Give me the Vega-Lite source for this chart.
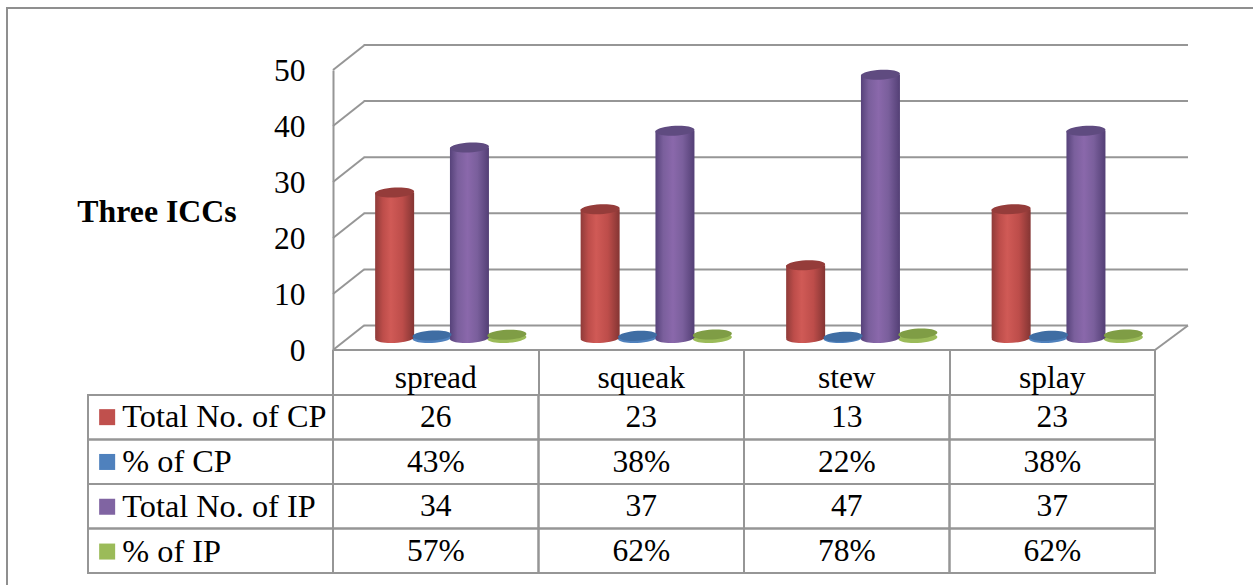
{
  "$schema": "https://vega.github.io/schema/vega-lite/v6.json",
  "autosize": "none",
  "width": 1247,
  "height": 578,
  "padding": {"left": 7, "top": 8, "right": 0, "bottom": 0},
  "background": "white",
  "view": {"stroke": "#8f8f8f", "strokeWidth": 2},
  "config": {"font": "Liberation Serif"},
  "datasets": {
    "measures": [
      {"category": "spread", "series": "Total No. of CP", "value": 26, "label": "26"},
      {"category": "squeak", "series": "Total No. of CP", "value": 23, "label": "23"},
      {"category": "stew", "series": "Total No. of CP", "value": 13, "label": "13"},
      {"category": "splay", "series": "Total No. of CP", "value": 23, "label": "23"},
      {"category": "spread", "series": "% of CP", "value": 0.43, "label": "43%"},
      {"category": "squeak", "series": "% of CP", "value": 0.38, "label": "38%"},
      {"category": "stew", "series": "% of CP", "value": 0.22, "label": "22%"},
      {"category": "splay", "series": "% of CP", "value": 0.38, "label": "38%"},
      {"category": "spread", "series": "Total No. of IP", "value": 34, "label": "34"},
      {"category": "squeak", "series": "Total No. of IP", "value": 37, "label": "37"},
      {"category": "stew", "series": "Total No. of IP", "value": 47, "label": "47"},
      {"category": "splay", "series": "Total No. of IP", "value": 37, "label": "37"},
      {"category": "spread", "series": "% of IP", "value": 0.57, "label": "57%"},
      {"category": "squeak", "series": "% of IP", "value": 0.62, "label": "62%"},
      {"category": "stew", "series": "% of IP", "value": 0.78, "label": "78%"},
      {"category": "splay", "series": "% of IP", "value": 0.62, "label": "62%"}
    ],
    "levels": [
      {"level": 0}, {"level": 10}, {"level": 20}, {"level": 30}, {"level": 40}, {"level": 50}
    ],
    "rows": [
      {"series": "Total No. of CP"}, {"series": "% of CP"}, {"series": "Total No. of IP"}, {"series": "% of IP"}
    ]
  },
  "resolve": {
    "scale": {"x": "independent", "y": "independent", "xOffset": "independent", "color": "independent"},
    "axis": {"x": "independent", "y": "independent"}
  },
  "layer": [
    {
      "description": "Back wall gridlines",
      "data": {"name": "levels"},
      "mark": {"type": "rule", "color": "#969696", "strokeWidth": 2},
      "encoding": {
        "x": {"datum": 0, "type": "quantitative", "axis": null, "scale": {"domain": [0, 4], "range": [356.5, 1181]}},
        "x2": {"datum": 4},
        "y": {"field": "level", "type": "quantitative", "axis": null, "scale": {"domain": [0, 50], "range": [317.5, 37]}}
      }
    },
    {
      "description": "Side wall diagonals with the value axis",
      "data": {"name": "levels"},
      "mark": {"type": "rule", "color": "#969696", "strokeWidth": 2, "x2Offset": 31, "y2Offset": -24.5},
      "encoding": {
        "x": {"datum": 0, "type": "quantitative", "axis": null, "scale": {"domain": [0, 4], "range": [326, 1148]}},
        "x2": {"datum": 0},
        "y": {
          "field": "level", "type": "quantitative",
          "scale": {"domain": [0, 50], "range": [342, 62]},
          "axis": {
            "orient": "left", "offset": -326, "values": [0, 10, 20, 30, 40, 50],
            "domainColor": "#969696", "domainWidth": 2, "ticks": false, "grid": false,
            "labelFont": "Liberation Serif", "labelFontSize": 31.5, "labelColor": "black", "labelPadding": 28, "labelOffset": 1,
            "title": "Three ICCs", "titleAngle": 0, "titleFont": "Liberation Serif", "titleFontSize": 31.8,
            "titleFontWeight": "bold", "titleColor": "black", "titleAlign": "center", "titleBaseline": "middle",
            "titleX": -176.5, "titleY": 203
          }
        },
        "y2": {"field": "level"}
      }
    },
    {
      "description": "Floor edge on the far side",
      "data": {"values": [{"level": 0}]},
      "mark": {"type": "rule", "color": "#969696", "strokeWidth": 2, "x2Offset": 33, "y2Offset": -24.5},
      "encoding": {
        "x": {"datum": 4, "type": "quantitative", "axis": null, "scale": {"domain": [0, 4], "range": [326, 1148]}},
        "x2": {"datum": 4},
        "y": {"field": "level", "type": "quantitative", "axis": null, "scale": {"domain": [0, 50], "range": [342, 62]}},
        "y2": {"field": "level"}
      }
    },
    {
      "description": "Data table cells with the category header as the axis",
      "data": {"name": "measures"},
      "mark": {"type": "rect", "fill": "transparent", "stroke": "#969696", "strokeWidth": 2},
      "encoding": {
        "x": {
          "field": "category", "type": "nominal",
          "scale": {"type": "band", "domain": ["spread", "squeak", "stew", "splay"], "range": [326, 1148], "paddingInner": 0, "paddingOuter": 0},
          "axis": {
            "orient": "bottom", "offset": -236, "title": null, "labelAngle": 0, "labelOverlap": false, "translate": 0,
            "domainColor": "#969696", "domainWidth": 2, "tickBand": "extent", "tickColor": "#969696", "tickWidth": 2, "tickSize": 45,
            "labelFont": "Liberation Serif", "labelFontSize": 31.5, "labelColor": "black", "labelBaseline": "alphabetic", "labelPadding": -7, "grid": false
          }
        },
        "y": {
          "field": "series", "type": "nominal", "axis": null,
          "scale": {"type": "band", "domain": ["Total No. of CP", "% of CP", "Total No. of IP", "% of IP"], "range": [387, 565], "paddingInner": 0, "paddingOuter": 0}
        }
      }
    },
    {
      "description": "Row header cells, with the series key as their labels",
      "data": {"name": "rows"},
      "mark": {"type": "rect", "fill": "transparent", "stroke": "#969696", "strokeWidth": 2},
      "encoding": {
        "x": {"datum": "series", "type": "nominal", "axis": null, "scale": {"type": "band", "domain": ["series"], "range": [81, 326], "paddingInner": 0, "paddingOuter": 0}},
        "y": {
          "field": "series", "type": "nominal", "axis": null,
          "scale": {"type": "band", "domain": ["Total No. of CP", "% of CP", "Total No. of IP", "% of IP"], "range": [387, 565], "paddingInner": 0, "paddingOuter": 0}
        }
      }
    },
    {
      "description": "Data table values",
      "data": {"name": "measures"},
      "mark": {"type": "text", "font": "Liberation Serif", "fontSize": 31.5, "color": "black", "baseline": "middle", "dy": 1},
      "encoding": {
        "x": {"field": "category", "type": "nominal", "axis": null, "scale": {"type": "band", "domain": ["spread", "squeak", "stew", "splay"], "range": [326, 1148], "paddingInner": 0, "paddingOuter": 0}},
        "y": {"field": "series", "type": "nominal", "axis": null, "scale": {"type": "band", "domain": ["Total No. of CP", "% of CP", "Total No. of IP", "% of IP"], "range": [387, 565], "paddingInner": 0, "paddingOuter": 0}},
        "text": {"field": "label"}
      }
    },
    {
      "description": "Lower rims of the flat percentage discs, source of the series key",
      "data": {"name": "measures"},
      "transform": [{"filter": "indexof(datum.series, '%') === 0"}],
      "mark": {"type": "point", "filled": true, "opacity": 1, "shape": "M -0.9986 0.052 A 1 0.25 -3 1 1 0.9986 -0.052 A 1 0.25 -3 1 1 -0.9986 0.052 Z", "size": 1521},
      "encoding": {
        "x": {"field": "category", "type": "nominal", "axis": null, "scale": {"type": "band", "domain": ["spread", "squeak", "stew", "splay"], "range": [341, 1163], "paddingInner": 0, "paddingOuter": 0}},
        "xOffset": {"field": "series", "type": "nominal", "scale": {"type": "band", "domain": ["Total No. of CP", "% of CP", "Total No. of IP", "% of IP"], "paddingInner": 0, "paddingOuter": 0.747}},
        "y": {"datum": 0, "type": "quantitative", "axis": null, "scale": {"domain": [0, 50], "range": [330, 50]}},
        "color": {
          "field": "series", "type": "nominal",
          "scale": {"domain": ["Total No. of CP", "% of CP", "Total No. of IP", "% of IP"], "range": ["#C0504D", "#4F81BD", "#8064A2", "#9BBB59"]},
          "legend": {
            "orient": "none", "legendX": 84, "legendY": 393, "title": null, "symbolType": "square", "symbolSize": 256,
            "symbolStrokeWidth": 0, "symbolOpacity": 1, "labelFont": "Liberation Serif", "labelFontSize": 32.3, "labelColor": "black",
            "labelOffset": -1, "rowPadding": 11.8, "padding": 0, "labelLimit": 400
          }
        }
      }
    },
    {
      "description": "Red cylinder bodies",
      "data": {"name": "measures"},
      "transform": [{"filter": "datum.series === 'Total No. of CP'"}],
      "mark": {"type": "bar", "width": 39, "color": {"x1": 0, "x2": 1, "y1": 0, "y2": 0, "gradient": "linear", "stops": [
        {"offset": 0, "color": "#8f3b39"}, {"offset": 0.2, "color": "#bd4d4a"}, {"offset": 0.4, "color": "#d05a56"},
        {"offset": 0.7, "color": "#bd4d4a"}, {"offset": 1, "color": "#843533"}]}},
      "encoding": {
        "x": {"field": "category", "type": "nominal", "axis": null, "scale": {"type": "band", "domain": ["spread", "squeak", "stew", "splay"], "range": [341, 1163], "paddingInner": 0, "paddingOuter": 0}},
        "xOffset": {"field": "series", "type": "nominal", "scale": {"type": "band", "domain": ["Total No. of CP", "% of CP", "Total No. of IP", "% of IP"], "paddingInner": 0, "paddingOuter": 0.747}},
        "y": {"field": "value", "type": "quantitative", "stack": null, "axis": null, "scale": {"domain": [0, 50], "range": [330, 50]}}
      }
    },
    {
      "description": "Red cylinder bases",
      "data": {"name": "measures"},
      "transform": [{"filter": "datum.series === 'Total No. of CP'"}],
      "mark": {"type": "point", "filled": true, "opacity": 1, "shape": "M -0.9986 0.052 A 1 0.25 -3 1 1 0.9986 -0.052 A 1 0.25 -3 1 1 -0.9986 0.052 Z", "size": 1521, "color": {"x1": 0, "x2": 1, "y1": 0, "y2": 0, "gradient": "linear", "stops": [
        {"offset": 0, "color": "#8f3b39"}, {"offset": 0.2, "color": "#bd4d4a"}, {"offset": 0.4, "color": "#d05a56"},
        {"offset": 0.7, "color": "#bd4d4a"}, {"offset": 1, "color": "#843533"}]}},
      "encoding": {
        "x": {"field": "category", "type": "nominal", "axis": null, "scale": {"type": "band", "domain": ["spread", "squeak", "stew", "splay"], "range": [341, 1163], "paddingInner": 0, "paddingOuter": 0}},
        "xOffset": {"field": "series", "type": "nominal", "scale": {"type": "band", "domain": ["Total No. of CP", "% of CP", "Total No. of IP", "% of IP"], "paddingInner": 0, "paddingOuter": 0.747}},
        "y": {"datum": 0, "type": "quantitative", "axis": null, "scale": {"domain": [0, 50], "range": [330, 50]}}
      }
    },
    {
      "description": "Purple cylinder bodies",
      "data": {"name": "measures"},
      "transform": [{"filter": "datum.series === 'Total No. of IP'"}],
      "mark": {"type": "bar", "width": 39, "color": {"x1": 0, "x2": 1, "y1": 0, "y2": 0, "gradient": "linear", "stops": [
        {"offset": 0, "color": "#56427a"}, {"offset": 0.2, "color": "#7a5f9c"}, {"offset": 0.45, "color": "#8a68ab"},
        {"offset": 0.7, "color": "#7a5f9c"}, {"offset": 1, "color": "#533f75"}]}},
      "encoding": {
        "x": {"field": "category", "type": "nominal", "axis": null, "scale": {"type": "band", "domain": ["spread", "squeak", "stew", "splay"], "range": [341, 1163], "paddingInner": 0, "paddingOuter": 0}},
        "xOffset": {"field": "series", "type": "nominal", "scale": {"type": "band", "domain": ["Total No. of CP", "% of CP", "Total No. of IP", "% of IP"], "paddingInner": 0, "paddingOuter": 0.747}},
        "y": {"field": "value", "type": "quantitative", "stack": null, "axis": null, "scale": {"domain": [0, 50], "range": [330, 50]}}
      }
    },
    {
      "description": "Purple cylinder bases",
      "data": {"name": "measures"},
      "transform": [{"filter": "datum.series === 'Total No. of IP'"}],
      "mark": {"type": "point", "filled": true, "opacity": 1, "shape": "M -0.9986 0.052 A 1 0.25 -3 1 1 0.9986 -0.052 A 1 0.25 -3 1 1 -0.9986 0.052 Z", "size": 1521, "color": {"x1": 0, "x2": 1, "y1": 0, "y2": 0, "gradient": "linear", "stops": [
        {"offset": 0, "color": "#56427a"}, {"offset": 0.2, "color": "#7a5f9c"}, {"offset": 0.45, "color": "#8a68ab"},
        {"offset": 0.7, "color": "#7a5f9c"}, {"offset": 1, "color": "#533f75"}]}},
      "encoding": {
        "x": {"field": "category", "type": "nominal", "axis": null, "scale": {"type": "band", "domain": ["spread", "squeak", "stew", "splay"], "range": [341, 1163], "paddingInner": 0, "paddingOuter": 0}},
        "xOffset": {"field": "series", "type": "nominal", "scale": {"type": "band", "domain": ["Total No. of CP", "% of CP", "Total No. of IP", "% of IP"], "paddingInner": 0, "paddingOuter": 0.747}},
        "y": {"datum": 0, "type": "quantitative", "axis": null, "scale": {"domain": [0, 50], "range": [330, 50]}}
      }
    },
    {
      "description": "Upper surfaces of every cylinder and disc",
      "data": {"name": "measures"},
      "mark": {"type": "point", "filled": true, "opacity": 1, "shape": "M -0.9986 0.052 A 1 0.25 -3 1 1 0.9986 -0.052 A 1 0.25 -3 1 1 -0.9986 0.052 Z", "size": 1521},
      "encoding": {
        "x": {"field": "category", "type": "nominal", "axis": null, "scale": {"type": "band", "domain": ["spread", "squeak", "stew", "splay"], "range": [341, 1163], "paddingInner": 0, "paddingOuter": 0}},
        "xOffset": {"field": "series", "type": "nominal", "scale": {"type": "band", "domain": ["Total No. of CP", "% of CP", "Total No. of IP", "% of IP"], "paddingInner": 0, "paddingOuter": 0.747}},
        "y": {"field": "value", "type": "quantitative", "axis": null, "scale": {"domain": [0, 50], "range": [330, 50]}},
        "color": {
          "field": "series", "type": "nominal", "legend": null,
          "scale": {"domain": ["Total No. of CP", "% of CP", "Total No. of IP", "% of IP"], "range": ["#953c3a", "#3f6da3", "#5f4b80", "#7f9d45"]}
        }
      }
    }
  ]
}
